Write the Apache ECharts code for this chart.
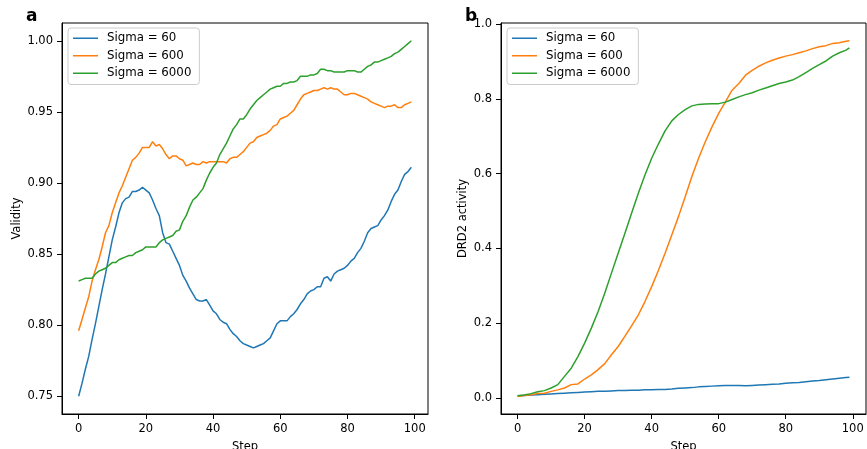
<!DOCTYPE html>
<html lang="en">

<head>
    <meta charset="UTF-8">
    <title>Validity / DRD2 activity</title>
    <script src="https://cdn.jsdelivr.net/npm/echarts@6/dist/echarts.min.js"></script>
    <style>
        body {
            margin: 0;
            background: #fff;
        }

        #chart {
            width: 867px;
            height: 449px;
        }
    </style>
</head>

<body>
    <div id="chart"></div>
    <script>
        var names = ['Sigma = 60', 'Sigma = 600', 'Sigma = 6000'];
        var colors = ['#1f77b4', '#ff7f0e', '#2ca02c'];

        // panel a: every step 0..99
        var stepsA = [];
        for (var i = 0; i < 100; i++) stepsA.push(i);

        var validity60 = [0.750, 0.759, 0.769, 0.778, 0.790, 0.801, 0.813, 0.825, 0.836, 0.848,
            0.860, 0.869, 0.879, 0.886, 0.889, 0.890, 0.894, 0.894, 0.895, 0.897,
            0.895, 0.893, 0.888, 0.882, 0.877, 0.865, 0.858, 0.857, 0.852, 0.847,
            0.842, 0.835, 0.831, 0.826, 0.822, 0.818, 0.817, 0.817, 0.818, 0.814,
            0.810, 0.808, 0.804, 0.802, 0.801, 0.797, 0.794, 0.792, 0.789, 0.787,
            0.786, 0.785, 0.784, 0.785, 0.786, 0.787, 0.789, 0.791, 0.796, 0.801,
            0.803, 0.803, 0.803, 0.806, 0.808, 0.811, 0.815, 0.818, 0.822, 0.824,
            0.825, 0.827, 0.827, 0.833, 0.834, 0.831, 0.836, 0.838, 0.839, 0.840,
            0.842, 0.845, 0.847, 0.851, 0.854, 0.859, 0.865, 0.868, 0.869, 0.870,
            0.874, 0.877, 0.881, 0.887, 0.892, 0.895, 0.901, 0.906, 0.908, 0.911];
        var validity600 = [0.796, 0.804, 0.812, 0.820, 0.831, 0.839, 0.846, 0.855, 0.865, 0.870,
            0.879, 0.886, 0.893, 0.898, 0.904, 0.910, 0.916, 0.918, 0.921, 0.925,
            0.925, 0.925, 0.929, 0.926, 0.927, 0.924, 0.920, 0.917, 0.919, 0.919,
            0.917, 0.916, 0.912, 0.913, 0.914, 0.913, 0.913, 0.915, 0.914, 0.915,
            0.915, 0.915, 0.915, 0.915, 0.914, 0.917, 0.918, 0.918, 0.920, 0.922,
            0.925, 0.928, 0.929, 0.932, 0.933, 0.934, 0.935, 0.937, 0.940, 0.941,
            0.945, 0.946, 0.947, 0.949, 0.951, 0.955, 0.959, 0.962, 0.963, 0.964,
            0.965, 0.965, 0.966, 0.967, 0.966, 0.967, 0.966, 0.966, 0.964, 0.962,
            0.962, 0.963, 0.963, 0.962, 0.961, 0.960, 0.959, 0.957, 0.956, 0.955,
            0.954, 0.953, 0.954, 0.954, 0.955, 0.953, 0.953, 0.955, 0.956, 0.957];
        var validity6000 = [0.831, 0.832, 0.833, 0.833, 0.833, 0.836, 0.838, 0.839, 0.840, 0.842,
            0.844, 0.844, 0.846, 0.847, 0.848, 0.849, 0.849, 0.851, 0.852, 0.853,
            0.855, 0.855, 0.855, 0.855, 0.858, 0.860, 0.861, 0.862, 0.863, 0.866,
            0.867, 0.873, 0.877, 0.883, 0.888, 0.890, 0.893, 0.896, 0.902, 0.907,
            0.911, 0.914, 0.920, 0.924, 0.928, 0.933, 0.938, 0.941, 0.945, 0.945,
            0.948, 0.952, 0.955, 0.958, 0.960, 0.962, 0.964, 0.966, 0.967, 0.968,
            0.968, 0.970, 0.970, 0.971, 0.971, 0.972, 0.975, 0.975, 0.975, 0.976,
            0.976, 0.977, 0.980, 0.980, 0.979, 0.979, 0.978, 0.978, 0.978, 0.978,
            0.979, 0.979, 0.979, 0.978, 0.978, 0.980, 0.982, 0.983, 0.985, 0.985,
            0.986, 0.987, 0.988, 0.989, 0.991, 0.992, 0.994, 0.996, 0.998, 1.000];

        // panel b: read every second step
        var stepsB = [0, 2, 4, 6, 8, 10, 12, 14, 16, 18, 20, 22, 24, 26, 28, 30, 32, 34, 36, 38,
            40, 42, 44, 46, 48, 50, 52, 54, 56, 58, 60, 62, 64, 66, 68, 70, 72, 74, 76, 78,
            80, 82, 84, 86, 88, 90, 92, 94, 96, 98, 99];
        var drd2_60 = [0.006, 0.007, 0.008, 0.009, 0.010, 0.011, 0.012, 0.013, 0.014, 0.015,
            0.016, 0.017, 0.018, 0.018, 0.019, 0.020, 0.020, 0.021, 0.021, 0.022,
            0.022, 0.023, 0.023, 0.024, 0.026, 0.027, 0.028, 0.030, 0.031, 0.032,
            0.033, 0.034, 0.034, 0.034, 0.033, 0.034, 0.035, 0.036, 0.037, 0.038,
            0.040, 0.041, 0.042, 0.044, 0.046, 0.047, 0.049, 0.051, 0.053, 0.055, 0.056];
        var drd2_600 = [0.004, 0.007, 0.009, 0.012, 0.013, 0.018, 0.022, 0.027, 0.036, 0.038,
            0.051, 0.062, 0.076, 0.092, 0.116, 0.138, 0.165, 0.193, 0.222, 0.258,
            0.298, 0.341, 0.387, 0.436, 0.485, 0.538, 0.592, 0.641, 0.685, 0.725,
            0.761, 0.792, 0.823, 0.841, 0.863, 0.876, 0.887, 0.896, 0.903, 0.909,
            0.914, 0.918, 0.923, 0.928, 0.934, 0.939, 0.942, 0.948, 0.950, 0.954, 0.955];
        var drd2_6000 = [0.006, 0.008, 0.012, 0.017, 0.020, 0.027, 0.036, 0.058, 0.080, 0.111,
            0.147, 0.187, 0.231, 0.280, 0.334, 0.387, 0.440, 0.494, 0.547, 0.596,
            0.641, 0.679, 0.714, 0.741, 0.758, 0.771, 0.781, 0.785, 0.786, 0.787,
            0.787, 0.791, 0.798, 0.805, 0.811, 0.816, 0.823, 0.829, 0.835, 0.841,
            0.845, 0.850, 0.859, 0.870, 0.881, 0.891, 0.901, 0.914, 0.923, 0.930, 0.936];

        var xTicks = [0, 20, 40, 60, 80, 100];
        var yTicksA = [0.75, 0.80, 0.85, 0.90, 0.95, 1.00];
        var yTicksB = [0, 0.2, 0.4, 0.6, 0.8, 1.0];

        var font = 'DejaVu Sans';

        function pairs(xs, ys) {
            return xs.map(function (x, k) { return [x, ys[k]]; });
        }

        function xAxis(idx) {
            return {
                type: 'value', gridIndex: idx, min: -4.95, max: 103.95,
                name: 'Step', nameLocation: 'middle', nameGap: 27,
                nameTextStyle: { fontFamily: font, fontSize: 11.5, color: '#000' },
                axisLine: { show: true, onZero: false, lineStyle: { color: '#000', width: 1 } },
                axisTick: { show: true, length: 5, customValues: xTicks, lineStyle: { color: '#000' } },
                axisLabel: { customValues: xTicks, margin: 9, fontFamily: font, fontSize: 11.5, color: '#000' },
                splitLine: { show: false }
            };
        }

        function yAxis(idx, name, gap, min, max, ticks, digits) {
            return {
                type: 'value', gridIndex: idx, min: min, max: max,
                name: name, nameLocation: 'middle', nameGap: gap,
                nameTextStyle: { fontFamily: font, fontSize: 11.5, color: '#000' },
                axisLine: { show: true, onZero: false, lineStyle: { color: '#000', width: 1 } },
                axisTick: { show: true, length: 5, customValues: ticks, lineStyle: { color: '#000' } },
                axisLabel: {
                    customValues: ticks, margin: 9, fontFamily: font, fontSize: 11.5, color: '#000',
                    formatter: function (v) { return Number(v).toFixed(digits); }
                },
                splitLine: { show: false }
            };
        }

        function legend(left) {
            return {
                left: left, top: 28, orient: 'vertical',
                data: names,
                icon: 'rect', itemWidth: 25, itemHeight: 1.5, itemGap: 5,
                padding: [4, 8, 5, 5],
                borderColor: '#cccccc', borderWidth: 1, borderRadius: 3,
                backgroundColor: 'rgba(255,255,255,0.8)',
                textStyle: { fontFamily: font, fontSize: 11.8, color: '#000', lineHeight: 12.5, padding: [0, 0, 0, 4] }
            };
        }

        function line(name, color, idx, data) {
            return {
                type: 'line', name: name, xAxisIndex: idx, yAxisIndex: idx,
                data: data, showSymbol: false, color: color,
                lineStyle: { color: color, width: 1.5 }
            };
        }

        var chart = echarts.init(document.getElementById('chart'), null, { renderer: 'canvas' });
        chart.setOption({
            animation: false,
            backgroundColor: '#fff',
            grid: [
                { left: 62, top: 23, width: 366, height: 391, show: true, borderColor: '#000', borderWidth: 1, containLabel: false, outerBoundsMode: 'none' },
                { left: 501, top: 23, width: 365, height: 391, show: true, borderColor: '#000', borderWidth: 1, containLabel: false, outerBoundsMode: 'none' }
            ],
            xAxis: [xAxis(0), xAxis(1)],
            yAxis: [
                yAxis(0, 'Validity', 39, 0.7375, 1.0125, yTicksA, 2),
                yAxis(1, 'DRD2 activity', 32, -0.0425, 1.0025, yTicksB, 1)
            ],
            legend: [legend(68), legend(507)],
            graphic: [
                { type: 'text', left: 26, top: 8, style: { text: 'a', fontFamily: font, fontSize: 17, fontWeight: 'bold', fill: '#000' } },
                { type: 'text', left: 465, top: 8, style: { text: 'b', fontFamily: font, fontSize: 17, fontWeight: 'bold', fill: '#000' } }
            ],
            series: [
                line(names[0], colors[0], 0, pairs(stepsA, validity60)),
                line(names[1], colors[1], 0, pairs(stepsA, validity600)),
                line(names[2], colors[2], 0, pairs(stepsA, validity6000)),
                line(names[0], colors[0], 1, pairs(stepsB, drd2_60)),
                line(names[1], colors[1], 1, pairs(stepsB, drd2_600)),
                line(names[2], colors[2], 1, pairs(stepsB, drd2_6000))
            ]
        });
    </script>
</body>

</html>
